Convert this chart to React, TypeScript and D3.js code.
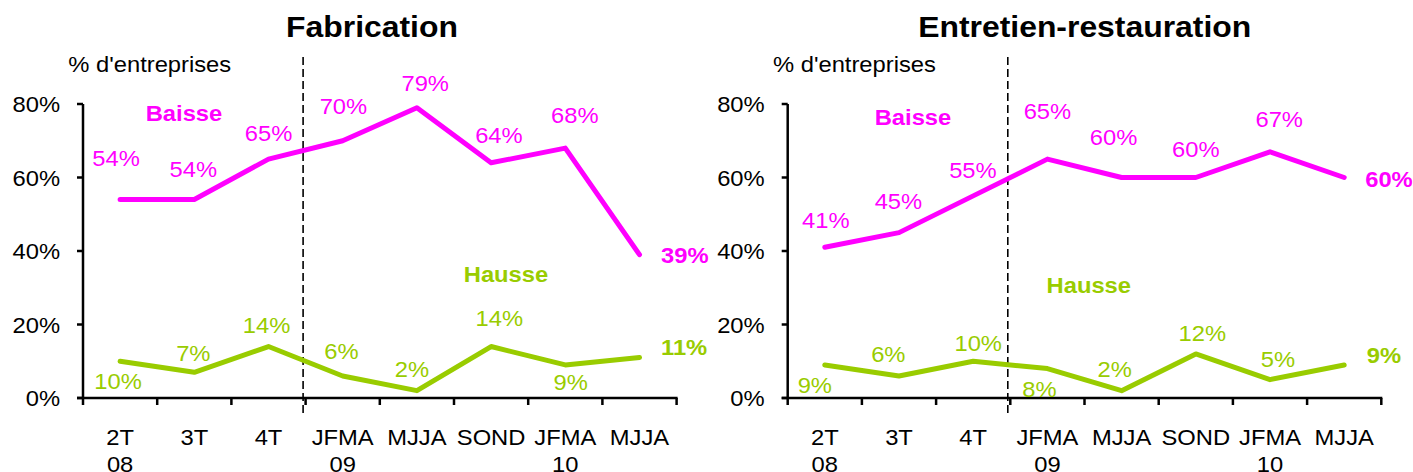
import React from "react";
import * as d3 from "d3";

// ---------- data ----------
const periodKeys = ["2T08", "3T08", "4T08", "JFMA09", "MJJA09", "SOND09", "JFMA10", "MJJA10"];
const tickLine1 = ["2T", "3T", "4T", "JFMA", "MJJA", "SOND", "JFMA", "MJJA"];
const tickLine2 = ["08", "", "", "09", "", "", "10", ""];
const yTicks = [0, 20, 40, 60, 80];

const fabBaisse = [54, 54, 65, 70, 79, 64, 68, 39];
const fabHausse = [10, 7, 14, 6, 2, 14, 9, 11];
const entBaisse = [41, 45, 55, 65, 60, 60, 67, 60];
const entHausse = [9, 6, 10, 8, 2, 12, 5, 9];

const titles = ["Fabrication", "Entretien-restauration"];
const yAxisTitle = "% d'entreprises";
const seriesNames = ["Baisse", "Hausse"];

// ---------- layout (label offsets from their point: [dx, dy]) ----------
const fabBaisseOff = [[-4, -33.5], [-1, -23], [0, -18], [0.7, -26.5], [8.3, -17], [7.8, -19.5], [9.5, -25], [21.5, 8.6]];
const fabHausseOff = [[-2, 28], [-1, -11.3], [-2, -13.2], [-1.3, -16.6], [-5, -14], [8.2, -20.8], [5.4, 25], [21.5, -2.6]];
const entBaisseOff = [[1, -19], [-0.6, -23.3], [-0.3, -17.6], [0, -40], [-8, -32.5], [0, -21], [9.2, -25], [21, 9.8]];
const entHausseOff = [[-10, 27.8], [-10.7, -14.3], [5, -10.5], [-8, 28], [-7, -14], [6.5, -13.2], [8, -13], [22.5, -1.6]];

const MAGENTA = "#FF00FF";
const GREEN = "#99CC00";
const FONT = "'Liberation Sans', Arial, Helvetica, sans-serif";
const FS = 21.6;
const SX = 1.1;

const yScale = d3.scaleLinear().domain([0, 80]).range([398, 104]);

type PanelProps = {
  x0: number;
  title: string;
  titleX: number;
  baisse: number[];
  hausse: number[];
  baisseOff: number[][];
  hausseOff: number[][];
  baissePos: [number, number];
  haussePos: [number, number];
};

function T(props: {
  x: number; y: number; anchor?: string; size?: number; bold?: boolean; fill?: string; children: React.ReactNode;
}) {
  const { x, y, anchor = "middle", size = FS, bold = false, fill = "#000", children } = props;
  return (
    <text
      transform={`translate(${x},${y}) scale(${SX},1)`}
      textAnchor={anchor}
      fontSize={size}
      fontWeight={bold ? "bold" : "normal"}
      fontFamily={FONT}
      fill={fill}
    >
      {children}
    </text>
  );
}

function Panel(p: PanelProps) {
  const xScale = d3.scaleBand<string>().domain(periodKeys).range([p.x0, p.x0 + 593.6]).padding(0);
  const cx = (i: number) => (xScale(periodKeys[i]) as number) + xScale.bandwidth() / 2;
  const line = d3
    .line<number>()
    .x((_, i) => cx(i))
    .y((v) => yScale(v));
  const xEnd = xScale.range()[1];
  const boundaries = periodKeys.map((k) => xScale(k) as number).concat([xEnd]);
  const dashX = (xScale("JFMA09") as number) - 2.5;
  const last = periodKeys.length - 1;

  const labels = (vals: number[], offs: number[][], color: string) =>
    vals.map((v, i) => (
      <T
        key={i}
        x={cx(i) + offs[i][0]}
        y={yScale(v) + offs[i][1]}
        anchor={i === last ? "start" : "middle"}
        bold={i === last}
        fill={color}
      >
        {v}%
      </T>
    ));

  return (
    <g>
      <T x={p.titleX} y={36.7} size={29} bold>
        {p.title}
      </T>
      <T x={p.x0 - 14.7} y={71.7} anchor="start">
        {yAxisTitle}
      </T>
      {/* y axis */}
      <line x1={p.x0} x2={p.x0} y1={yScale(80)} y2={yScale(0)} stroke="#000" strokeWidth={2.5} />
      {yTicks.map((t) => (
        <g key={t}>
          <line x1={p.x0 - 6} x2={p.x0} y1={yScale(t)} y2={yScale(t)} stroke="#000" strokeWidth={2.5} />
          <T x={p.x0 - 23} y={yScale(t) + 8.4} anchor="end">
            {t}%
          </T>
        </g>
      ))}
      {/* x axis */}
      <line x1={p.x0 - 6} x2={xEnd + 1} y1={yScale(0)} y2={yScale(0)} stroke="#000" strokeWidth={2.5} />
      {boundaries.map((b, i) => (
        <line key={i} x1={b} x2={b} y1={yScale(0)} y2={yScale(0) + 7} stroke="#000" strokeWidth={2.5} />
      ))}
      {periodKeys.map((k, i) => (
        <g key={k}>
          <T x={cx(i)} y={445}>
            {tickLine1[i]}
          </T>
          {tickLine2[i] && (
            <T x={cx(i)} y={471.5}>
              {tickLine2[i]}
            </T>
          )}
        </g>
      ))}
      {/* dashed separator */}
      <line x1={dashX} x2={dashX} y1={57} y2={414} stroke="#000" strokeWidth={1.6} strokeDasharray="8,4" />
      {/* lines */}
      <path d={line(p.baisse) || ""} fill="none" stroke={MAGENTA} strokeWidth={5} strokeLinejoin="round" strokeLinecap="round" />
      <path d={line(p.hausse) || ""} fill="none" stroke={GREEN} strokeWidth={5} strokeLinejoin="round" strokeLinecap="round" />
      {labels(p.baisse, p.baisseOff, MAGENTA)}
      {labels(p.hausse, p.hausseOff, GREEN)}
      <T x={p.baissePos[0]} y={p.baissePos[1]} bold fill={MAGENTA}>
        {seriesNames[0]}
      </T>
      <T x={p.haussePos[0]} y={p.haussePos[1]} bold fill={GREEN}>
        {seriesNames[1]}
      </T>
    </g>
  );
}

export default function App() {
  return (
    <svg
      width={1413}
      height={472}
      viewBox="0 0 1413 472"
      style={{ position: "absolute", left: 0, top: 0, background: "#fff" }}
    >
      <rect x={0} y={0} width={1413} height={472} fill="#fff" />
      <Panel
        x0={83}
        title={titles[0]}
        titleX={372}
        baisse={fabBaisse}
        hausse={fabHausse}
        baisseOff={fabBaisseOff}
        hausseOff={fabHausseOff}
        baissePos={[184, 120.7]}
        haussePos={[506, 281.7]}
      />
      <Panel
        x0={787.7}
        title={titles[1]}
        titleX={1084.7}
        baisse={entBaisse}
        hausse={entHausse}
        baisseOff={entBaisseOff}
        hausseOff={entHausseOff}
        baissePos={[913, 125]}
        haussePos={[1088.8, 293.3]}
      />
    </svg>
  );
}
